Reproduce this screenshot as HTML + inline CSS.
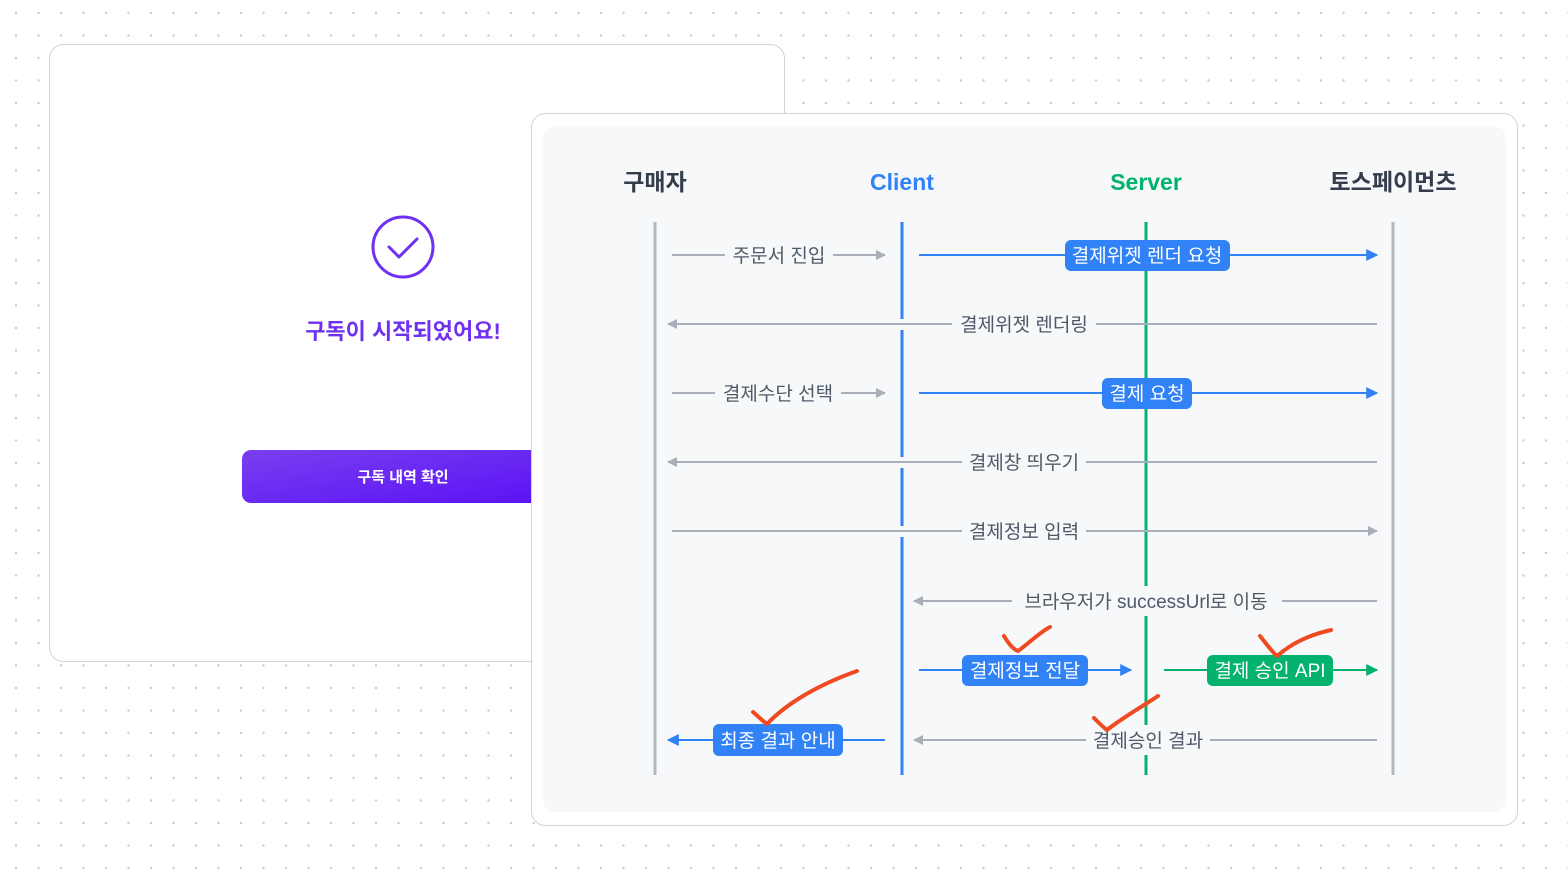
<!DOCTYPE html>
<html><head><meta charset="utf-8"><style>
html,body{margin:0;padding:0;width:1568px;height:872px;overflow:hidden;background:#fff;}
svg{display:block}
text{font-family:"Liberation Sans","Noto Sans CJK KR",sans-serif;}
</style></head><body>
<svg width="1568" height="872" viewBox="0 0 1568 872" xmlns="http://www.w3.org/2000/svg">
<defs>
<pattern id="dots" width="22.5" height="22.5" patternUnits="userSpaceOnUse" x="5" y="2">
<circle cx="11" cy="11" r="1.2" fill="#c9ccd1"/></pattern>
<linearGradient id="btn" x1="0" x2="1" y1="0" y2="1"><stop offset="0" stop-color="#7a3ff0"/><stop offset="1" stop-color="#5a12f5"/></linearGradient>
<marker id="ag" viewBox="0 0 10 10" refX="9" refY="5" markerWidth="10" markerHeight="10" markerUnits="userSpaceOnUse" orient="auto-start-reverse"><path d="M0,0L10,5L0,10z" fill="#a9afb8"/></marker>
<marker id="ab" viewBox="0 0 10 10" refX="9" refY="5" markerWidth="12" markerHeight="12" markerUnits="userSpaceOnUse" orient="auto-start-reverse"><path d="M0,0L10,5L0,10z" fill="#3182f6"/></marker>
<marker id="agr" viewBox="0 0 10 10" refX="9" refY="5" markerWidth="12" markerHeight="12" markerUnits="userSpaceOnUse" orient="auto-start-reverse"><path d="M0,0L10,5L0,10z" fill="#03b26c"/></marker>
</defs>
<rect width="1568" height="872" fill="url(#dots)"/>
<rect x="49.5" y="44.5" width="735" height="617" rx="14" fill="#fff" stroke="#cfd3d8"/>
<circle cx="403" cy="247" r="30" fill="none" stroke="#6f30f2" stroke-width="3"/>
<path d="M389,247 L399,257 L417,239" fill="none" stroke="#6f30f2" stroke-width="3" stroke-linecap="round" stroke-linejoin="round"/>
<text x="403" y="339" text-anchor="middle" font-size="22" font-weight="bold" fill="#6f30f2">구독이 시작되었어요!</text>
<rect x="242" y="450" width="310" height="53" rx="9" fill="url(#btn)"/>
<text x="403" y="482" text-anchor="middle" font-size="15" font-weight="bold" fill="#fff">구독 내역 확인</text>
<rect x="531.5" y="113.5" width="986" height="712" rx="14" fill="#fff" stroke="#cfd3d8"/>
<rect x="543" y="126" width="963" height="686" rx="12" fill="#f7f8f9"/>
<g font-size="23" font-weight="bold" text-anchor="middle">
<text x="655" y="190" fill="#333d4b">구매자</text>
<text x="902" y="190" fill="#3182f6">Client</text>
<text x="1146" y="190" fill="#03b26c">Server</text>
<text x="1393" y="190" fill="#333d4b">토스페이먼츠</text>
</g>
<line x1="655" y1="222" x2="655" y2="775" stroke="#b0b8c1" stroke-width="3"/>
<line x1="902" y1="222" x2="902" y2="775" stroke="#3182f6" stroke-width="3"/>
<line x1="1146" y1="222" x2="1146" y2="775" stroke="#03b26c" stroke-width="3"/>
<line x1="1393" y1="222" x2="1393" y2="775" stroke="#b0b8c1" stroke-width="3"/>
<g fill="#f7f8f9">
<rect x="899" y="319" width="6" height="11"/>
<rect x="899" y="457" width="6" height="11"/>
<rect x="899" y="526" width="6" height="11"/>
</g>
<g stroke-width="2" fill="none">
<line x1="672" y1="255" x2="885" y2="255" stroke="#a9afb8" marker-end="url(#ag)"/>
<line x1="919" y1="255" x2="1377" y2="255" stroke="#3182f6" marker-end="url(#ab)"/>
<line x1="1377" y1="324" x2="668" y2="324" stroke="#a9afb8" marker-end="url(#ag)"/>
<line x1="672" y1="393" x2="885" y2="393" stroke="#a9afb8" marker-end="url(#ag)"/>
<line x1="919" y1="393" x2="1377" y2="393" stroke="#3182f6" marker-end="url(#ab)"/>
<line x1="1377" y1="462" x2="668" y2="462" stroke="#a9afb8" marker-end="url(#ag)"/>
<line x1="672" y1="531" x2="1377" y2="531" stroke="#a9afb8" marker-end="url(#ag)"/>
<line x1="1377" y1="601" x2="914" y2="601" stroke="#a9afb8" marker-end="url(#ag)"/>
<line x1="919" y1="670" x2="1131" y2="670" stroke="#3182f6" marker-end="url(#ab)"/>
<line x1="1164" y1="670" x2="1377" y2="670" stroke="#03b26c" marker-end="url(#agr)"/>
<line x1="1377" y1="740" x2="914" y2="740" stroke="#a9afb8" marker-end="url(#ag)"/>
<line x1="885" y1="740" x2="668" y2="740" stroke="#3182f6" marker-end="url(#ab)"/>
</g>
<g font-size="19" fill="#4e5968" text-anchor="middle">
<rect x="725" y="240" width="108" height="30" fill="#f7f8f9"/><text x="779" y="262">주문서 진입</text>
<rect x="952" y="309" width="144" height="30" fill="#f7f8f9"/><text x="1024" y="331">결제위젯 렌더링</text>
<rect x="715" y="378" width="126" height="30" fill="#f7f8f9"/><text x="778" y="400">결제수단 선택</text>
<rect x="962" y="447" width="124" height="30" fill="#f7f8f9"/><text x="1024" y="469">결제창 띄우기</text>
<rect x="962" y="516" width="124" height="30" fill="#f7f8f9"/><text x="1024" y="538">결제정보 입력</text>
<rect x="1012" y="586" width="270" height="30" fill="#f7f8f9"/><text x="1146" y="608">브라우저가 successUrl로 이동</text>
<rect x="1086" y="725" width="124" height="30" fill="#f7f8f9"/><text x="1148" y="747">결제승인 결과</text>
</g>
<g font-size="19" fill="#fff" text-anchor="middle">
<rect x="1065" y="240" width="165" height="31" rx="6" fill="#3182f6"/><text x="1147" y="262">결제위젯 렌더 요청</text>
<rect x="1102" y="378" width="90" height="31" rx="6" fill="#3182f6"/><text x="1147" y="400">결제 요청</text>
<rect x="962" y="655" width="126" height="31" rx="6" fill="#3182f6"/><text x="1025" y="677">결제정보 전달</text>
<rect x="1207" y="655" width="126" height="31" rx="6" fill="#03b26c"/><text x="1270" y="677">결제 승인 API</text>
<rect x="713" y="724" width="130" height="32" rx="6" fill="#3182f6"/><text x="778" y="747">최종 결과 안내</text>
</g>
<g fill="none" stroke="#f04a23" stroke-width="4" stroke-linecap="round" stroke-linejoin="round">
<path d="M1004,636 C1010,646 1015,650 1018,651 C1028,644 1040,632 1050,627"/>
<path d="M1260,636 C1268,646 1274,654 1277,656 C1290,645 1305,636 1331,630"/>
<path d="M1094,718 C1100,724 1104,728 1107,730 C1122,718 1140,708 1158,696"/>
<path d="M753,712 C760,718 764,722 767,724 C785,705 815,686 857,671"/>
</g>
</svg>
</body></html>
